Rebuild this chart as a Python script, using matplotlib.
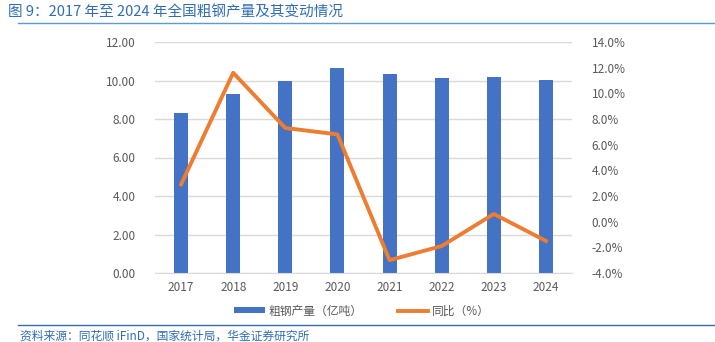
import matplotlib.pyplot as plt
import numpy as np
from matplotlib.ticker import FuncFormatter

plt.rcParams['font.family'] = ['Noto Sans CJK SC', 'DejaVu Sans']

# 数据
years = ['2017', '2018', '2019', '2020', '2021', '2022', '2023', '2024']
output = [8.31, 9.28, 9.96, 10.65, 10.33, 10.13, 10.19, 10.05]   # 亿吨
yoy = [2.9, 11.6, 7.3, 6.8, -3.0, -1.9, 0.6, -1.5]              # %

blue = '#4472C4'
orange = '#ED7D31'
gray = '#595959'
title_blue = '#2F6DB5'

fig = plt.figure(figsize=(7.15, 3.42), dpi=100)
ax = fig.add_axes([155 / 715, 1 - 273 / 342, 417 / 715, 231 / 342])
ax2 = ax.twinx()

x = np.arange(len(years))
ax.bar(x, output, width=0.27, color=blue, label='粗钢产量（亿吨）', zorder=2)
ax2.plot(x, yoy, color=orange, lw=2.8, label='同比（%）', zorder=3)

ax.set_xlim(-0.5, len(years) - 0.5)
ax.set_ylim(0, 12)
ax.set_yticks(np.arange(0, 12.1, 2))
ax.yaxis.set_major_formatter(FuncFormatter(lambda v, p: f'{v:.2f}'))
ax2.set_ylim(-4, 14)
ax2.set_yticks(np.arange(-4, 14.1, 2))
ax2.yaxis.set_major_formatter(FuncFormatter(lambda v, p: f'{v:.1f}%'))
ax.set_xticks(x)
ax.set_xticklabels(years)

ax.grid(axis='y', color='#D9D9D9', lw=1, zorder=0)
for a in (ax, ax2):
    for s in a.spines.values():
        s.set_visible(False)
    a.tick_params(length=0, colors=gray, labelsize=8.5)
ax.spines['bottom'].set_visible(True)
ax.spines['bottom'].set_color('#D9D9D9')
ax.tick_params(axis='y', pad=14)
ax2.tick_params(axis='y', pad=14)
ax.tick_params(axis='x', pad=6)

# 图例
h1, l1 = ax.get_legend_handles_labels()
h2, l2 = ax2.get_legend_handles_labels()
fig.legend(h1 + h2, l1 + l2, loc='center', bbox_to_anchor=(362 / 715, 1 - 311 / 342),
           ncol=2, frameon=False, fontsize=8.5, labelcolor=gray,
           handlelength=2.6, handleheight=0.4, columnspacing=3, handletextpad=0.3)

# 标题与来源
fig.text(8 / 715, 1 - 12 / 342, '图 9：2017 年至 2024 年全国粗钢产量及其变动情况',
         color=title_blue, fontsize=10.5, va='center', ha='left')
fig.add_artist(plt.Line2D([18 / 715, 1], [1 - 23 / 342] * 2, color='#5B9BD5', lw=1))
fig.add_artist(plt.Line2D([18 / 715, 1], [1 - 325 / 342] * 2, color='#2F6DB5', lw=1))
fig.text(20 / 715, 1 - 336 / 342, '资料来源：同花顺 iFinD，国家统计局，华金证券研究所',
         color=title_blue, fontsize=8.5, style='italic', va='center', ha='left')

plt.savefig('out.png', dpi=100)
